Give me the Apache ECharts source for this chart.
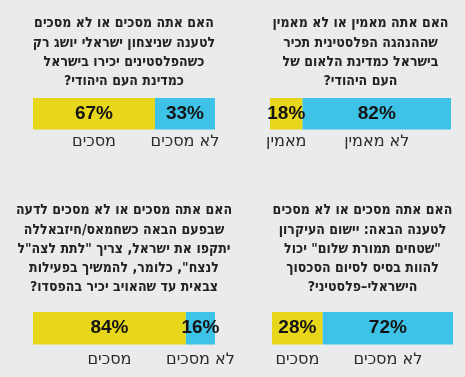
<!DOCTYPE html>
<html>
<head>
<meta charset="utf-8">
<script src="https://cdn.jsdelivr.net/npm/echarts@6/dist/echarts.min.js"></script>
<style>
  html, body { margin: 0; padding: 0; background: #e9ebed; }
  #chart { width: 465px; height: 377px; }
</style>
</head>
<body>
<div id="chart" dir="rtl"></div>
<script>
// top-left, top-right, bottom-left, bottom-right
const questions = [
  ["האם אתה מסכים או לא מסכים", "לטענה שניצחון ישראלי יושג רק", "כשהפלסטינים יכירו בישראל", "כמדינת העם היהודי?"],
  ["האם אתה מאמין או לא מאמין", "שההנהגה הפלסטינית תכיר", "בישראל כמדינת הלאום של", "העם היהודי?"],
  ["האם אתה מסכים או לא מסכים לדעה", "שבפעם הבאה כשחמאס/חיזבאללה", "יתקפו את ישראל, צריך \"לתת לצה\"ל", "לנצח\", כלומר, להמשיך בפעילות", "צבאית עד שהאויב יכיר בהפסדו?"],
  ["האם אתה מסכים או לא מסכים", "לטענה הבאה: יישום העיקרון", "\"שטחים תמורת שלום\" יכול", "להוות בסיס לסיום הסכסוך", "הישראלי–פלסטיני?"]
];
const yesLabels = ["מסכים", "מאמין", "מסכים", "מסכים"];
const noLabels = ["לא מסכים", "לא מאמין", "לא מסכים", "לא מסכים"];
const yesValues = [67, 18, 84, 28];
const noValues = [33, 82, 16, 72];

const panels = [
  { left: 33, width: 182, titleTop: 14, gridTop: 98, gridHeight: 60 },
  { left: 270, width: 181, titleTop: 14, gridTop: 98, gridHeight: 60 },
  { left: 33, width: 182, titleTop: 201, gridTop: 312, gridHeight: 64 },
  { left: 272, width: 181, titleTop: 201, gridTop: 312, gridHeight: 64 }
];

const yellow = "#e8d61b";
const cyan = "#3ec3e8";
const pctFont = "'Liberation Sans Narrow', 'Liberation Sans', sans-serif";
const titleFont = "'DejaVu Sans Condensed', 'DejaVu Sans', sans-serif";
const textFont = "'DejaVu Sans', sans-serif";

function pctLabel(v) {
  return {
    show: true,
    position: "inside",
    formatter: v + "%",
    fontFamily: pctFont,
    fontSize: 19,
    fontWeight: "bold",
    color: "#141414"
  };
}

function nameLabel(name) {
  return {
    show: true,
    position: "inside",
    formatter: name,
    fontFamily: textFont,
    fontSize: 16,
    fontWeight: "normal",
    color: "#2a2a2a"
  };
}

function segment(value, color, name) {
  return [
    { value: value, itemStyle: { color: color }, label: pctLabel(value) },
    { value: value, itemStyle: { color: "transparent" }, label: nameLabel(name) }
  ];
}

const chart = echarts.init(document.getElementById("chart"), null, { renderer: "canvas" });

chart.setOption({
  animation: false,
  backgroundColor: "#e9ebed",
  title: panels.map((p, i) => ({
    text: questions[i].join("\n"),
    left: p.left + p.width / 2,
    top: p.titleTop,
    padding: 0,
    textAlign: "center",
    textStyle: {
      fontFamily: titleFont,
      fontSize: 14,
      fontWeight: "bold",
      lineHeight: 19.3,
      color: "#222"
    }
  })),
  grid: panels.map((p) => ({ left: p.left, width: p.width, top: p.gridTop, height: p.gridHeight })),
  xAxis: panels.map((p, i) => ({ type: "value", gridIndex: i, min: 0, max: 100, show: false })),
  yAxis: panels.map((p, i) => ({ type: "category", gridIndex: i, data: ["bar", "names"], inverse: true, show: false })),
  series: panels.flatMap((p, i) => [
    {
      type: "bar",
      xAxisIndex: i,
      yAxisIndex: i,
      stack: "s" + i,
      barWidth: 33,
      silent: true,
      data: segment(yesValues[i], yellow, yesLabels[i])
    },
    {
      type: "bar",
      xAxisIndex: i,
      yAxisIndex: i,
      stack: "s" + i,
      barWidth: 33,
      silent: true,
      data: segment(noValues[i], cyan, noLabels[i])
    }
  ])
});
</script>
</body>
</html>
